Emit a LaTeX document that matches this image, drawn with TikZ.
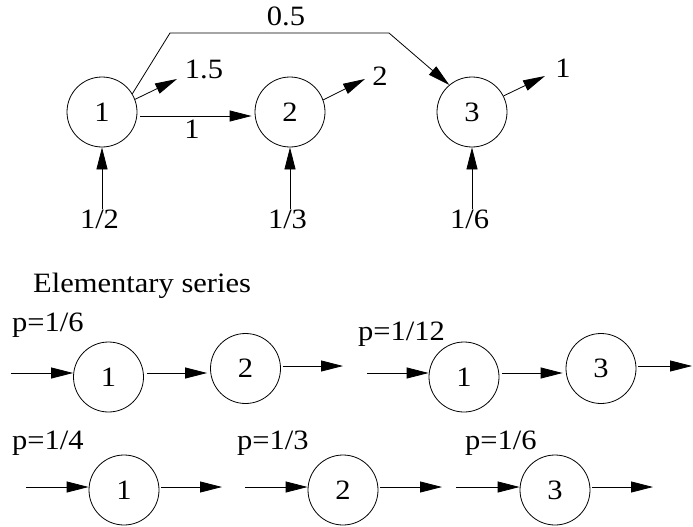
\documentclass[tikz,border=0pt]{standalone}
\usepackage{fontspec}
\setmainfont{Liberation Serif}[FakeStretch=1.09]
\usetikzlibrary{arrows.meta}
\begin{document}
\begin{tikzpicture}[x=1pt,y=-1pt,
  every node/.style={font=\fontsize{28}{30}\selectfont},
  st/.style={draw,circle,minimum size=70pt,inner sep=0pt,line width=0.8pt},
  arr/.style={-{Triangle[length=22pt,width=11pt]},line width=0.8pt},
  lbl/.style={inner sep=0pt}]
\useasboundingbox (0,0) rectangle (693,527);
% ---------- top graph ----------
\node[st] (a1) at (102,112) {1};
\node[st] (a2) at (290,112) {2};
\node[st] (a3) at (472,112) {3};
\node[lbl] (w12) at (192,129) {1};
\draw[arr,shorten <=3pt,shorten >=3pt] ([yshift=-4pt]a1.east) -- ([yshift=-4pt]a2.west);
% inputs
\node[lbl] (i1) at (99.5,219) {1/2};
\node[lbl] (i2) at (287.5,219) {1/3};
\node[lbl] (i3) at (469.5,219) {1/6};
\draw[arr] (i1.north -| a1) -- (a1.south);
\draw[arr] (i2.north -| a2) -- (a2.south);
\draw[arr] (i3.north -| a3) -- (a3.south);
% outputs
\coordinate (o1) at (177,79);
\coordinate (o2) at (365,79);
\coordinate (o3) at (545,76);
\node[lbl] (ol1) at (204,69) {1.5};
\node[lbl] (ol2) at (380,76) {2};
\node[lbl] (ol3) at (563,68) {1};
\draw[arr] (a1.21) -- (o1);
\draw[arr] (a2.20) -- (o2);
\draw[arr] (a3.27) -- (o3);
% 0.5 edge
\coordinate (k1) at (170,33);
\coordinate (k2) at (389,33);
\node[lbl] (h) at (286,16) {0.5};
\draw[arr] (a1.31) -- (k1) -- (k2) -- (a3.130);
% ---------- elementary series ----------
\node[lbl,anchor=base west] (es) at (33,292) {Elementary series};
% row 1 left
\node[lbl,anchor=base west] (p1) at (12,331) {p=1/6};
\coordinate (s1) at (11,373);
\node[st] (b1) at (108.5,377) {1};
\node[st] (b2) at (245.5,368.5) {2};
\coordinate (t1) at (343,366);
\draw[arr] (s1) -- ([yshift=4pt]b1.west);
\draw[arr,shorten <=3pt,shorten >=3pt] ([yshift=4pt]b1.east) -- ([yshift=-4.5pt]b2.west);
\draw[arr,shorten <=2pt] ([yshift=2.5pt]b2.east) -- (t1);
% row 1 right
\node[lbl,anchor=base west] (p2) at (358,340) {p=1/12};
\coordinate (s2) at (367,373);
\node[st] (c1) at (464,377) {1};
\node[st] (c3) at (601,368.5) {3};
\coordinate (t2) at (692,366);
\draw[arr] (s2) -- ([yshift=4pt]c1.west);
\draw[arr,shorten <=3pt,shorten >=3pt] ([yshift=4pt]c1.east) -- ([yshift=-4.5pt]c3.west);
\draw[arr,shorten <=2pt] ([yshift=2.5pt]c3.east) -- (t2);
% row 2
\node[lbl,anchor=base west] (p3) at (12,449) {p=1/4};
\node[lbl,anchor=base west] (p4) at (237,449) {p=1/3};
\node[lbl,anchor=base west] (p5) at (465,449) {p=1/6};
\coordinate (s3) at (26,487);
\coordinate (s4) at (245,487);
\coordinate (s5) at (456,487);
\node[st] (d1) at (124,490) {1};
\node[st] (d2) at (343,490) {2};
\node[st] (d3) at (555,490) {3};
\coordinate (t3) at (222,487);
\coordinate (t4) at (442,487);
\coordinate (t5) at (653,487);
\draw[arr] (s3) -- ([yshift=3pt]d1.west);
\draw[arr] (s4) -- ([yshift=3pt]d2.west);
\draw[arr] (s5) -- ([yshift=3pt]d3.west);
\draw[arr,shorten <=2pt] ([yshift=3pt]d1.east) -- (t3);
\draw[arr,shorten <=2pt] ([yshift=3pt]d2.east) -- (t4);
\draw[arr,shorten <=2pt] ([yshift=3pt]d3.east) -- (t5);
\end{tikzpicture}
\end{document}
